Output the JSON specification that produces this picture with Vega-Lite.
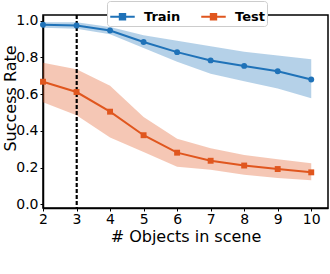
{
  "$schema": "https://vega.github.io/schema/vega-lite/v6.json",
  "width": 285,
  "height": 193,
  "autosize": "none",
  "padding": {"left": 43, "top": 15, "right": 2, "bottom": 66},
  "config": {
    "font": "DejaVu Sans",
    "view": {"stroke": "black", "strokeWidth": 1.5},
    "axis": {
      "grid": false,
      "domainColor": "black",
      "domainWidth": 1.5,
      "tickColor": "black",
      "labelColor": "black",
      "titleColor": "black",
      "labelFontSize": 14,
      "titleFontSize": 16,
      "titleFontWeight": "normal",
      "tickSize": 3,
      "labelOverlap": false,
      "labelFlush": false
    }
  },
  "data": {
    "values": [
      {"series": "Train", "x": 2, "y": 0.977, "lo": 0.96, "hi": 0.99},
      {"series": "Train", "x": 3, "y": 0.973, "lo": 0.955, "hi": 0.99},
      {"series": "Train", "x": 4, "y": 0.946, "lo": 0.925, "hi": 0.965},
      {"series": "Train", "x": 5, "y": 0.883, "lo": 0.85, "hi": 0.92},
      {"series": "Train", "x": 6, "y": 0.828, "lo": 0.775, "hi": 0.89},
      {"series": "Train", "x": 7, "y": 0.783, "lo": 0.71, "hi": 0.86},
      {"series": "Train", "x": 8, "y": 0.753, "lo": 0.67, "hi": 0.83},
      {"series": "Train", "x": 9, "y": 0.724, "lo": 0.63, "hi": 0.81},
      {"series": "Train", "x": 10, "y": 0.679, "lo": 0.577, "hi": 0.789},
      {"series": "Test", "x": 2, "y": 0.667, "lo": 0.555, "hi": 0.77},
      {"series": "Test", "x": 3, "y": 0.611, "lo": 0.484, "hi": 0.735},
      {"series": "Test", "x": 4, "y": 0.504, "lo": 0.364, "hi": 0.645},
      {"series": "Test", "x": 5, "y": 0.376, "lo": 0.285, "hi": 0.475},
      {"series": "Test", "x": 6, "y": 0.281, "lo": 0.205, "hi": 0.357},
      {"series": "Test", "x": 7, "y": 0.237, "lo": 0.188, "hi": 0.305},
      {"series": "Test", "x": 8, "y": 0.211, "lo": 0.161, "hi": 0.269},
      {"series": "Test", "x": 9, "y": 0.192, "lo": 0.143, "hi": 0.245},
      {"series": "Test", "x": 10, "y": 0.174, "lo": 0.131, "hi": 0.224}
    ]
  },
  "encoding": {
    "x": {"field": "x", "type": "quantitative", "scale": {"domain": [2, 10.5], "nice": false, "zero": false}, "axis": {"values": [2, 3, 4, 5, 6, 7, 8, 9, 10], "title": "# Objects in scene", "titlePadding": 2, "labelPadding": 1}},
    "y": {"field": "y", "type": "quantitative", "scale": {"domain": [-0.02, 1.03], "nice": false, "zero": false}, "axis": {"values": [0, 0.2, 0.4, 0.6, 0.8, 1.0], "format": ".1f", "title": "Success Rate", "titleX": -25, "titleY": 83, "labelPadding": 2, "labelOverlap": false}},
    "color": {
      "field": "series", "type": "nominal",
      "scale": {"domain": ["Train", "Test"], "range": ["#1f72b8", "#e0561e"]},
      "legend": {
        "orient": "none", "legendX": 64, "legendY": -14,
        "direction": "horizontal", "title": null,
        "labelFontSize": 13, "labelFontWeight": "bold", "labelColor": "black",
        "symbolType": "M-1,0H1M-0.22,-0.22H0.22V0.22H-0.22Z",
        "symbolSize": 600, "symbolStrokeWidth": 2, "symbolOpacity": 1,
        "columnPadding": 16, "labelOffset": 8,
        "fillColor": "white", "strokeColor": "#cccccc", "padding": 2, "cornerRadius": 3
      }
    }
  },
  "layer": [
    {
      "mark": {"type": "area", "opacity": 0.33},
      "encoding": {
        "y": {"field": "lo", "type": "quantitative", "scale": {"domain": [-0.02, 1.03], "nice": false, "zero": false}, "axis": {"values": [0, 0.2, 0.4, 0.6, 0.8, 1.0], "format": ".1f", "title": "Success Rate", "titleX": -25, "titleY": 83, "labelPadding": 2, "labelOverlap": false}},
        "y2": {"field": "hi"}
      }
    },
    {
      "mark": {"type": "rule", "strokeDash": [4, 2], "strokeWidth": 1.1},
      "encoding": {"x": {"datum": 3}, "y": {"value": 0}, "y2": {"value": 193}, "color": {"value": "black"}}
    },
    {
      "mark": {"type": "line", "strokeWidth": 2}
    },
    {
      "transform": [{"filter": "datum.series == 'Train'"}],
      "mark": {"type": "point", "filled": true, "opacity": 1, "size": 35, "shape": "circle"}
    },
    {
      "transform": [{"filter": "datum.series == 'Test'"}],
      "mark": {"type": "point", "filled": true, "opacity": 1, "size": 35, "shape": "square"}
    }
  ]
}
